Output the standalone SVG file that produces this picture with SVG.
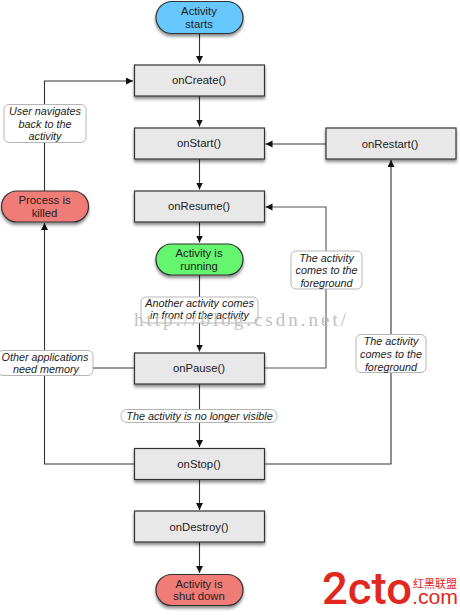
<svg xmlns="http://www.w3.org/2000/svg" width="460" height="615" viewBox="0 0 460 615">
<style>
text{font-family:"Liberation Sans",Arial,"Noto Sans CJK SC",sans-serif;font-size:11.300px;fill:#222;text-anchor:middle}
.box{fill:#e8e8e8;stroke:#333;stroke-width:1.2;filter:url(#sh)}
.pill{stroke:#333;stroke-width:1.2;filter:url(#sh)}
.lab{fill:#fff;stroke:#b5b5b5;stroke-width:1}
text.lt{font-style:italic;font-size:10.800px}
.c{fill:none;stroke:#333;stroke-width:1.1}
text.wm{font-family:"Liberation Serif","DejaVu Serif",serif;font-size:19px;fill:#c0c0c0;text-anchor:start}
text.logo{fill:#e0281e;text-anchor:start}
</style>
<defs>
<marker id="a" markerUnits="userSpaceOnUse" markerWidth="9" markerHeight="8" refX="7" refY="3.500" orient="auto"><path d="M0 0L7 3.500L0 7Z" fill="#111"/></marker>
<filter id="sh" x="-10%" y="-20%" width="120%" height="150%"><feDropShadow dx="0" dy="2.500" stdDeviation="1.600" flood-color="#000" flood-opacity=".45"/></filter>
</defs>
<g id="connectors">
<path class="c" marker-end="url(#a)" d="M199.500 33V63"/>
<path class="c" marker-end="url(#a)" d="M199.500 96V126.500"/>
<path class="c" marker-end="url(#a)" d="M199.500 159V189.500"/>
<path class="c" marker-end="url(#a)" d="M199.500 222V242.500"/>
<path class="c" marker-end="url(#a)" d="M199.500 275V351.500"/>
<path class="c" marker-end="url(#a)" d="M199.500 384V447"/>
<path class="c" marker-end="url(#a)" d="M199.500 479V510"/>
<path class="c" marker-end="url(#a)" d="M199.500 542V573"/>
<path class="c" marker-end="url(#a)" d="M326 144H265.500"/>
<path class="c" style="stroke:#555" marker-end="url(#a)" d="M264.500 368H326V207H265.500"/>
<path class="c" marker-end="url(#a)" d="M264.500 464H391V160"/>
<path class="c" marker-end="url(#a)" d="M44.500 191V81H133"/>
<path class="c" marker-end="url(#a)" d="M134.500 464H44.500V223"/>
<path class="c" d="M134.500 368H90"/>
</g>
<g id="activity-starts"><rect class="pill" x="156" y="1.500" width="87" height="32" rx="16" fill="#66c8ff"/><text x="199" y="15">Activity</text><text x="199" y="28">starts</text></g>
<g id="onCreate"><rect class="box" x="134.500" y="65" width="130" height="31"/><text x="199" y="84">onCreate()</text></g>
<g id="onStart"><rect class="box" x="134.500" y="128" width="130" height="31"/><text x="199" y="147">onStart()</text></g>
<g id="onResume"><rect class="box" x="134.500" y="191" width="130" height="31"/><text x="199" y="210">onResume()</text></g>
<g id="activity-running"><rect class="pill" x="156" y="244" width="87" height="31" rx="15.500" fill="#66f56e"/><text x="199" y="257">Activity is</text><text x="199" y="270">running</text></g>
<g id="onPause"><rect class="box" x="134.500" y="353" width="130" height="31"/><text x="199" y="372">onPause()</text></g>
<g id="onStop"><rect class="box" x="134.500" y="448.500" width="130" height="31"/><text x="199" y="468">onStop()</text></g>
<g id="onDestroy"><rect class="box" x="134.500" y="511" width="130" height="31"/><text x="199" y="531">onDestroy()</text></g>
<g id="activity-shut-down"><rect class="pill" x="156" y="574.500" width="87" height="31" rx="15.500" fill="#f07c78"/><text x="199" y="588">Activity is</text><text x="199" y="600">shut down</text></g>
<g id="onRestart"><rect class="box" x="326" y="128" width="130" height="31"/><text x="390" y="148">onRestart()</text></g>
<g id="process-killed"><rect class="pill" x="1.500" y="191" width="87" height="31" rx="15.500" fill="#f07c78"/><text x="44.500" y="204">Process is</text><text x="44.500" y="217">killed</text></g>
<g id="label-user-navigates"><rect class="lab" x="4" y="104.500" width="82" height="38" rx="5"/><text class="lt" x="45" y="115">User navigates</text><text class="lt" x="45" y="127.500">back to the</text><text class="lt" x="45" y="140">activity</text></g>
<g id="label-other-applications"><rect class="lab" x="-2" y="350.500" width="95" height="25" rx="5"/><text class="lt" x="45" y="360.500">Other applications</text><text class="lt" x="46" y="373">need memory</text></g>
<g id="label-another-activity"><rect class="lab" x="141" y="297" width="117" height="26" rx="5"/><text class="lt" x="199.500" y="306.500">Another activity comes</text><text class="lt" x="199.500" y="319">in front of the activity</text></g>
<g id="label-no-longer-visible"><rect class="lab" x="121" y="409.500" width="156" height="13" rx="6"/><text class="lt" x="199.500" y="420">The activity is no longer visible</text></g>
<g id="label-foreground-1"><rect class="lab" x="291" y="251" width="71" height="38" rx="5"/><text class="lt" x="326.500" y="261.500">The activity</text><text class="lt" x="326.500" y="274">comes to the</text><text class="lt" x="326.500" y="287">foreground</text></g>
<g id="label-foreground-2"><rect class="lab" x="356" y="334.500" width="70" height="38" rx="5"/><text class="lt" x="391" y="345">The activity</text><text class="lt" x="391" y="358">comes to the</text><text class="lt" x="391" y="370.500">foreground</text></g>
<text class="wm" x="134" y="326" textLength="212">http://blog.csdn.net/</text>
<text class="logo" x="322" y="604" style="font-size:44px;font-weight:500;font-family:Roboto,sans-serif" textLength="90" lengthAdjust="spacingAndGlyphs">2cto</text>
<text class="logo" x="412" y="604" style="font-size:20px" textLength="46" lengthAdjust="spacingAndGlyphs">.com</text>
<text class="logo" x="413" y="588" style="font-size:11px" textLength="44">红黑联盟</text>
</svg>
